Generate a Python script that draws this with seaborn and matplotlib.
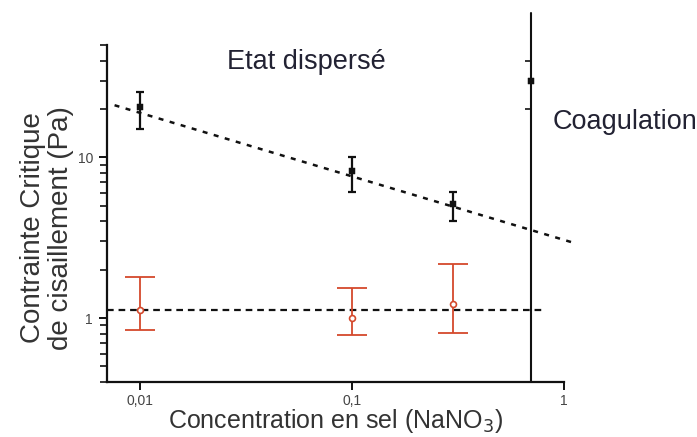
import matplotlib
matplotlib.use("Agg")
import matplotlib.pyplot as plt
import matplotlib.ticker as mticker
import numpy as np
import pandas as pd
import seaborn as sns

# Dispersed-state critical stress (black) with error bars
conc_black = [0.01, 0.1, 0.3]
stress_black = [20.5, 8.2, 5.1]
err_black_low = [15.0, 6.1, 4.0]
err_black_high = [25.5, 10.1, 6.1]

# Coagulation point on the boundary
conc_coag = [0.7]
stress_coag = [30.0]

# Second series (red) with error bars
conc_red = [0.01, 0.1, 0.3]
stress_red = [1.12, 1.0, 1.22]
err_red_low = [0.84, 0.78, 0.81]
err_red_high = [1.80, 1.54, 2.17]

# Power-law trend line (end points) and mean level
fit_x = [0.0076, 1.15]
fit_y = [21.1, 2.9]
mean_x = [0.007, 0.8]
mean_y = [1.12, 1.12]

# Coagulation boundary
boundary_x = 0.7
boundary_ticks = [20, 40]

x_ticks = [0.01, 0.1, 1]
x_ticklabels = ["0,01", "0,1", "1"]
y_ticks = [1, 10]
y_ticklabels = ["1", "10"]

sns.set_style("white")
plt.rcParams["font.family"] = ["Liberation Sans", "DejaVu Sans"]

fig = plt.figure(figsize=(6.97, 4.37), dpi=100)
ax = fig.add_axes([0.1535, 0.1259, 0.809 - 0.1535, 0.897 - 0.1259])
ax.set_xscale("log")
ax.set_yscale("log")
ax.set_xlim(0.007, 1.0)
ax.set_ylim(0.4, 50)

red = "#d4492c"
ink = "#111111"

df_fit = pd.DataFrame({"x": fit_x, "y": fit_y})
sns.lineplot(data=df_fit, x="x", y="y", ax=ax, color=ink, lw=1.8,
             linestyle=(0, (2.0, 2.6)), clip_on=False, legend=False)
df_mean = pd.DataFrame({"x": mean_x, "y": mean_y})
sns.lineplot(data=df_mean, x="x", y="y", ax=ax, color=ink, lw=1.6,
             linestyle=(0, (3.0, 2.2)), legend=False)

# error bars
sb = np.array(stress_black)
ax.errorbar(conc_black, sb,
            yerr=[sb - np.array(err_black_low), np.array(err_black_high) - sb],
            fmt="none", ecolor=ink, elinewidth=1.6, capsize=3, capthick=1.6)
sr = np.array(stress_red)
ax.errorbar(conc_red, sr,
            yerr=[sr - np.array(err_red_low), np.array(err_red_high) - sr],
            fmt="none", ecolor=red, elinewidth=1.3, capsize=11, capthick=1.3)

df_black = pd.DataFrame({"x": conc_black, "y": stress_black})
sns.scatterplot(data=df_black, x="x", y="y", ax=ax, marker="s", s=18,
                color=ink, edgecolor=ink, legend=False, zorder=5)
df_red = pd.DataFrame({"x": conc_red, "y": stress_red})
sns.scatterplot(data=df_red, x="x", y="y", ax=ax, marker="o", s=18,
                facecolor="white", edgecolor=red, linewidth=1.2,
                legend=False, zorder=5)

# coagulation boundary with its own small ticks
ax.axvline(boundary_x, ymin=0, ymax=1.095, color=ink, lw=1.5, clip_on=False)
df_coag = pd.DataFrame({"x": conc_coag, "y": stress_coag})
sns.scatterplot(data=df_coag, x="x", y="y", ax=ax, marker="s", s=20,
                color=ink, edgecolor=ink, legend=False, zorder=6)
ax2 = ax.twinx()
ax2.set_yscale("log")
ax2.set_ylim(ax.get_ylim())
for s in ax2.spines.values():
    s.set_visible(False)
ax2.spines["right"].set_position(("data", boundary_x))
ax2.yaxis.set_major_locator(mticker.FixedLocator(boundary_ticks))
ax2.yaxis.set_minor_locator(mticker.NullLocator())
ax2.tick_params(axis="y", right=True, direction="in", length=4, width=1.2,
                color=ink, labelright=False)

# axes styling
for side in ["top", "right"]:
    ax.spines[side].set_visible(False)
for side in ["left", "bottom"]:
    ax.spines[side].set_color(ink)
    ax.spines[side].set_linewidth(1.6)

ax.xaxis.set_major_locator(mticker.FixedLocator(x_ticks))
ax.xaxis.set_major_formatter(mticker.FixedFormatter(x_ticklabels))
ax.xaxis.set_minor_locator(mticker.LogLocator(base=10, subs=np.arange(2, 10)))
ax.xaxis.set_minor_formatter(mticker.NullFormatter())
ax.yaxis.set_major_locator(mticker.FixedLocator(y_ticks))
ax.yaxis.set_major_formatter(mticker.FixedFormatter(y_ticklabels))
ax.yaxis.set_minor_locator(mticker.LogLocator(base=10, subs=np.arange(2, 10)))
ax.yaxis.set_minor_formatter(mticker.NullFormatter())

ax.tick_params(axis="x", which="major", direction="out", length=6, width=1.4,
               color=ink, labelsize=10, labelcolor="#444444", pad=3)
ax.tick_params(axis="x", which="minor", direction="in", length=4, width=1.2,
               color=ink)
ax.tick_params(axis="y", which="major", direction="out", length=6, width=1.4,
               color=ink, labelsize=10, labelcolor="#444444", pad=4)
ax.tick_params(axis="y", which="minor", direction="out", length=5, width=1.2,
               color=ink)
ax.tick_params(bottom=True, left=True)

ax.set_xlabel("Concentration en sel (NaNO$_3$)", fontsize=18, color="#333333",
              labelpad=-1)
ax.set_ylabel("Contrainte Critique\nde cisaillement (Pa)", fontsize=20,
              color="#333333", linespacing=1.1)
ax.yaxis.set_label_coords(-0.072, 0.457)

fig.text(306 / 697, 1 - 62 / 437, "Etat dispersé", fontsize=19.5,
         color="#222233", ha="center", va="center")
fig.text(553 / 697, 1 - 122 / 437, "Coagulation", fontsize=19.5,
         color="#222233", ha="left", va="center")

fig.savefig("out.png", dpi=100)
